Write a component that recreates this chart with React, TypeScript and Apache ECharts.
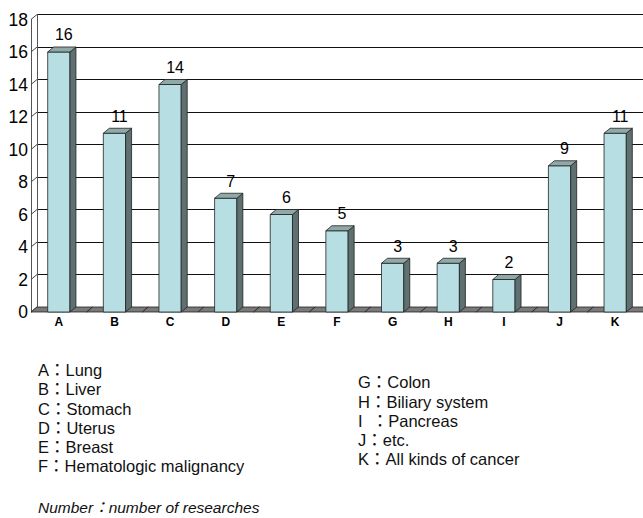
import React, { useEffect, useRef } from "react";
import * as echarts from "echarts";

const categories = ["A", "B", "C", "D", "E", "F", "G", "H", "I", "J", "K"];
const values = [16, 11, 14, 7, 6, 5, 3, 3, 2, 9, 11];
const yTicks = [0, 2, 4, 6, 8, 10, 12, 14, 16, 18];
const legendLeft = ["A：Lung", "B：Liver", "C：Stomach", "D：Uterus", "E：Breast", "F：Hematologic malignancy"];
const legendRight = ["G：Colon", "H：Biliary system", "I  ：Pancreas", "J：etc.", "K：All kinds of cancer"];
const note = "Number：number of researches";

const DX = 6;
const DY = 5;
const FRONT = "#b7dfe3";
const SIDE = "#5e7070";
const TOP = "#8fa8a8";
const EDGE = "#222";
const FONT = "'Liberation Sans', Arial, 'Noto Sans CJK KR', sans-serif";

export default function App() {
  const ref = useRef<HTMLDivElement>(null);
  useEffect(() => {
    if (!ref.current) return;
    const chart = echarts.init(ref.current, undefined, { renderer: "svg" });
    const graphics: any[] = [];
    legendLeft.forEach((t, i) => {
      graphics.push({
        type: "text",
        left: 38,
        top: 362 + i * 19.2,
        style: { text: t, fontSize: 16.5, fill: "#111", fontFamily: FONT },
      });
    });
    legendRight.forEach((t, i) => {
      graphics.push({
        type: "text",
        left: 358,
        top: 374 + i * 19.3,
        style: { text: t, fontSize: 16.5, fill: "#111", fontFamily: FONT },
      });
    });
    graphics.push({
      type: "text",
      left: 38,
      top: 500,
      style: { text: note, fontSize: 15.5, fontStyle: "italic", fill: "#111", fontFamily: FONT },
    });

    const option: any = {
      animation: false,
      backgroundColor: "#fff",
      grid: [
        { left: 31, right: 0, top: 19.5, bottom: 206 },
        { left: 37, right: -6, top: 14.5, bottom: 211 },
      ],
      xAxis: [
        {
          type: "category",
          gridIndex: 0,
          data: categories,
          axisLine: { show: false },
          axisTick: { show: false },
          axisLabel: { fontSize: 12, fontWeight: "bold", color: "#000", margin: 4, fontFamily: FONT },
        },
        { type: "category", gridIndex: 1, data: categories, show: false },
      ],
      yAxis: [
        {
          type: "value",
          gridIndex: 0,
          min: 0,
          max: 18,
          interval: 2,
          axisLine: { show: true, lineStyle: { color: "#555", width: 1 } },
          axisTick: { show: false },
          splitLine: { show: false },
          axisLabel: { fontSize: 17.5, color: "#000", margin: 3, fontFamily: FONT },
        },
        {
          type: "value",
          gridIndex: 1,
          min: 0,
          max: 18,
          interval: 2,
          axisLine: { show: true, lineStyle: { color: "#555", width: 1 } },
          axisTick: { show: false },
          axisLabel: { show: false },
          splitLine: { show: true, lineStyle: { color: "#111", width: 1 } },
        },
      ],
      graphic: graphics,
      series: [
        {
          type: "custom",
          xAxisIndex: 0,
          yAxisIndex: 0,
          data: yTicks.map((v) => [0, v]),
          encode: { x: 0, y: 1 },
          z: 3,
          renderItem: (params: any, api: any) => {
            const p = api.coord([api.value(0), api.value(1)]);
            const band = api.size([1, 0])[0];
            const x = p[0] - band / 2;
            return {
              type: "line",
              shape: { x1: x, y1: p[1], x2: x + DX, y2: p[1] - DY },
              style: { stroke: "#444", lineWidth: 1 },
            };
          },
        },
        {
          type: "custom",
          xAxisIndex: 0,
          yAxisIndex: 0,
          data: categories.map((c, i) => [i, 0]),
          encode: { x: 0, y: 1 },
          z: 4,
          renderItem: (params: any, api: any) => {
            const p = api.coord([api.value(0), 0]);
            const band = api.size([1, 0])[0];
            const xl = p[0] - band / 2;
            const xr = p[0] + band / 2;
            return {
              type: "polygon",
              shape: {
                points: [
                  [xl, p[1]],
                  [xr, p[1]],
                  [xr + DX, p[1] - DY],
                  [xl + DX, p[1] - DY],
                ],
              },
              style: { fill: "#7a7a7a", stroke: EDGE, lineWidth: 0.8 },
            };
          },
        },
        {
          type: "custom",
          xAxisIndex: 0,
          yAxisIndex: 0,
          data: values.map((v, i) => [i, v]),
          encode: { x: 0, y: 1 },
          z: 5,
          renderItem: (params: any, api: any) => {
            const idx = api.value(0);
            const v = api.value(1);
            const top = api.coord([idx, v]);
            const base = api.coord([idx, 0]);
            const band = api.size([1, 0])[0];
            const w = band * 0.4;
            const x0 = top[0] - w / 2;
            const x1 = top[0] + w / 2;
            const st = { stroke: EDGE, lineWidth: 0.8 };
            return {
              type: "group",
              children: [
                {
                  type: "rect",
                  shape: { x: x0, y: top[1], width: w, height: base[1] - top[1] },
                  style: { fill: FRONT, ...st },
                },
                {
                  type: "polygon",
                  shape: {
                    points: [
                      [x1, top[1]],
                      [x1 + DX, top[1] - DY],
                      [x1 + DX, base[1] - DY],
                      [x1, base[1]],
                    ],
                  },
                  style: { fill: SIDE, ...st },
                },
                {
                  type: "polygon",
                  shape: {
                    points: [
                      [x0, top[1]],
                      [x1, top[1]],
                      [x1 + DX, top[1] - DY],
                      [x0 + DX, top[1] - DY],
                    ],
                  },
                  style: { fill: TOP, ...st },
                },
                {
                  type: "text",
                  style: {
                    text: String(v),
                    x: top[0] + 5,
                    y: top[1] - DY - 4,
                    align: "center",
                    verticalAlign: "bottom",
                    fontSize: 16,
                    fill: "#000",
                    fontFamily: FONT,
                  },
                },
              ],
            };
          },
        },
      ],
    };
    chart.setOption(option);
    return () => chart.dispose();
  }, []);
  return (
    <div
      ref={ref}
      style={{ position: "absolute", left: 0, top: 0, width: 643, height: 518 }}
    />
  );
}
